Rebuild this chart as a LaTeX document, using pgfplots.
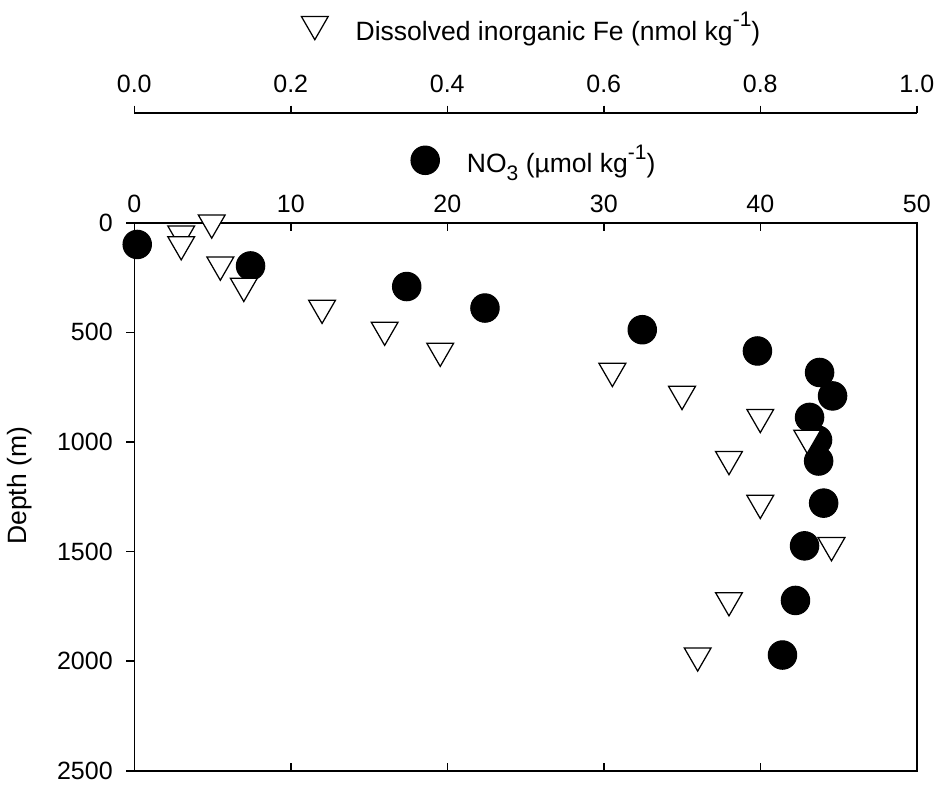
\documentclass[border=0pt]{standalone}
\usepackage{fontspec}
\setmainfont{Liberation Sans}
\usepackage{pgfplots}
\pgfplotsset{compat=1.18}
\pgfplotsset{
  every axis/.append style={font=\fontsize{10}{12}\selectfont},
  /pgf/number format/assume math mode=true,
}
\newcommand{\legfont}{\fontsize{10.6}{12.7}\selectfont}
\newcommand{\smallfont}{\fontsize{8.4}{9}\selectfont}

\begin{document}
\begin{tikzpicture}
% main axis: NO3 (top scale) against depth
\begin{axis}[
  name=main,
  scale only axis, width=313pt, height=219.2pt,
  xmin=0, xmax=50, ymin=0, ymax=2500, y dir=reverse,
  xtick={0,10,...,50}, ytick={0,500,...,2500},
  xtick pos=both, xticklabel pos=top, ytick pos=left,
  xtick align=inside, ytick align=outside,
  major tick length=3.2pt,
  axis line style={line width=0.6pt},
  tick style={line width=0.6pt, black},
  yticklabel style={xshift=-1.9pt, /pgf/number format/1000 sep={}},
  xticklabel style={yshift=0.6pt},
  ylabel={Depth (m)},
  ylabel style={at={(axis description cs:-0.146,0.52)}, anchor=center, font=\legfont},
  legend style={draw=none, fill=none, at={(axis description cs:0.513,1.114)}, anchor=center,
    font=\legfont, /tikz/every odd column/.append style={column sep=9pt}},
]
\addplot[only marks, mark=*, mark size=5.7pt, mark options={fill=black, draw=black}]
  table {
x y
0.19 99
7.43 197
17.41 291
22.41 389
32.46 488
39.82 585
43.79 683
44.62 790
43.15 888
43.66 991
43.73 1087
44.05 1279
42.83 1474
42.25 1723
41.42 1972
};
\addlegendentry{NO\raisebox{-0.3em}{\smallfont 3} (µmol kg\raisebox{0.5em}{\smallfont -1})}
\end{axis}

% Fe data on the same box
\begin{axis}[
  at={(main.south west)}, anchor=south west,
  scale only axis, width=313pt, height=219.2pt,
  xmin=0, xmax=1, ymin=0, ymax=2500, y dir=reverse,
  hide axis,
  legend style={draw=none, fill=none, at={(axis description cs:0.51,1.355)}, anchor=center,
    font=\legfont, /tikz/every odd column/.append style={column sep=9pt}},
]
\addplot[only marks, mark=triangle*, mark size=6.2pt,
  mark options={fill=white, draw=black, line width=0.5pt, yshift=1.6pt, rotate=180}]
  table {
x y
0.099 18
0.060 68
0.060 117
0.110 210
0.140 307
0.240 407
0.320 507
0.391 603
0.611 695
0.700 800
0.800 905
0.860 1000
0.760 1097
0.800 1297
0.891 1490
0.760 1741
0.720 1993
};
\addlegendentry{Dissolved inorganic Fe (nmol kg\raisebox{0.5em}{\smallfont -1})}
\end{axis}

% Fe scale above
\begin{axis}[
  at={(main.north west)}, anchor=south west,
  scale only axis, width=313pt, height=43.8pt,
  xmin=0, xmax=1, ymin=0, ymax=1,
  axis x line*=top, axis y line=none,
  xtick={0,0.2,0.4,0.6,0.8,1}, xtick align=outside,
  major tick length=3pt,
  axis line style={line width=0.6pt, -},
  tick style={line width=0.6pt, black},
  xticklabel style={yshift=1.8pt, /pgf/number format/.cd, fixed, fixed zerofill, precision=1},
]
\end{axis}

\pgfresetboundingbox
\path[use as bounding box] ([xshift=-53.7pt,yshift=-6.5pt]main.south west)
  rectangle ([xshift=8.5pt,yshift=89.1pt]main.north east);
\end{tikzpicture}
\end{document}
